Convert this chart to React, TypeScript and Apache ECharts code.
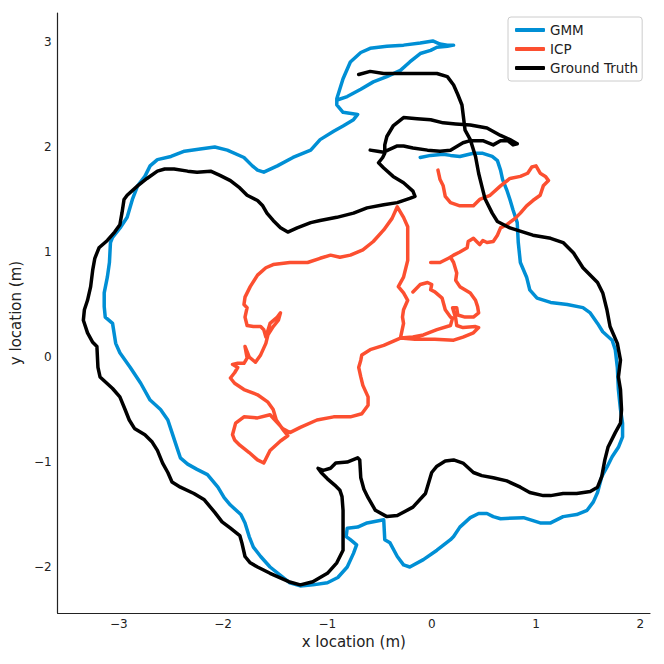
import React, { useEffect, useRef } from "react";
import * as echarts from "echarts";

const seriesNames = ["GMM", "ICP", "Ground Truth"];

const gmmPath = [[-0.11,1.90],[-0.01,1.92],[0.11,1.93],[0.18,1.92],[0.27,1.91],[0.40,1.94],[0.49,1.94],[0.58,1.91],[0.63,1.87],[0.66,1.78],[0.68,1.69],[0.72,1.59],[0.75,1.50],[0.78,1.40],[0.82,1.28],[0.83,1.09],[0.85,0.90],[0.91,0.76],[0.94,0.64],[1.01,0.56],[1.14,0.52],[1.30,0.50],[1.45,0.47],[1.52,0.42],[1.59,0.32],[1.64,0.24],[1.73,0.16],[1.76,0.07],[1.78,-0.10],[1.79,-0.31],[1.81,-0.50],[1.83,-0.63],[1.83,-0.76],[1.79,-0.86],[1.73,-0.95],[1.68,-1.05],[1.63,-1.14],[1.59,-1.29],[1.55,-1.38],[1.49,-1.46],[1.39,-1.50],[1.26,-1.52],[1.14,-1.58],[1.04,-1.58],[0.88,-1.53],[0.66,-1.54],[0.59,-1.52],[0.53,-1.49],[0.45,-1.49],[0.37,-1.53],[0.27,-1.62],[0.21,-1.71],[0.18,-1.74],[0.05,-1.84],[-0.08,-1.93],[-0.21,-2.00],[-0.27,-1.98],[-0.33,-1.90],[-0.40,-1.77],[-0.45,-1.74],[-0.46,-1.55],[-0.62,-1.58],[-0.71,-1.62],[-0.81,-1.63],[-0.82,-1.71],[-0.78,-1.74],[-0.72,-1.79],[-0.75,-1.87],[-0.81,-2.00],[-0.90,-2.10],[-1.00,-2.15],[-1.14,-2.17],[-1.26,-2.18],[-1.36,-2.15],[-1.45,-2.08],[-1.55,-2.00],[-1.64,-1.90],[-1.71,-1.81],[-1.75,-1.71],[-1.79,-1.58],[-1.83,-1.50],[-1.93,-1.41],[-1.99,-1.34],[-2.05,-1.24],[-2.15,-1.12],[-2.25,-1.07],[-2.34,-1.02],[-2.41,-0.96],[-2.44,-0.87],[-2.49,-0.72],[-2.53,-0.60],[-2.60,-0.50],[-2.70,-0.41],[-2.79,-0.25],[-2.89,-0.10],[-2.99,0.04],[-3.03,0.13],[-3.06,0.32],[-3.13,0.38],[-3.14,0.48],[-3.14,0.61],[-3.11,0.76],[-3.09,0.90],[-3.08,1.09],[-3.06,1.14],[-2.98,1.24],[-2.92,1.33],[-2.87,1.50],[-2.82,1.63],[-2.75,1.72],[-2.70,1.82],[-2.63,1.88],[-2.50,1.91],[-2.37,1.96],[-2.22,1.98],[-2.08,2.00],[-1.96,1.97],[-1.80,1.90],[-1.72,1.82],[-1.67,1.78],[-1.61,1.76],[-1.48,1.82],[-1.33,1.90],[-1.16,1.97],[-1.07,2.07],[-0.94,2.15],[-0.85,2.20],[-0.75,2.26],[-0.71,2.31],[-0.85,2.33],[-0.91,2.40],[-0.91,2.46],[-0.85,2.65],[-0.78,2.81],[-0.68,2.90],[-0.59,2.94],[-0.43,2.96],[-0.27,2.97],[-0.11,2.99],[0.01,3.01],[0.08,2.98],[0.15,2.97],[0.21,2.97],[0.15,2.96],[0.05,2.95],[-0.01,2.92],[-0.11,2.89],[-0.21,2.81],[-0.30,2.73],[-0.43,2.67],[-0.56,2.62],[-0.68,2.55],[-0.81,2.48],[-0.90,2.45]];

const icpPathA = [[0.06,1.78],[0.08,1.69],[0.11,1.63],[0.13,1.53],[0.18,1.47],[0.27,1.44],[0.40,1.44],[0.46,1.50],[0.56,1.54],[0.66,1.63],[0.75,1.70],[0.85,1.72],[0.92,1.75],[0.96,1.81],[1.00,1.82],[1.04,1.75],[1.09,1.72],[1.12,1.68],[1.07,1.63],[1.04,1.54],[0.97,1.49],[0.91,1.44],[0.85,1.37],[0.80,1.32],[0.72,1.26],[0.66,1.23],[0.63,1.16],[0.59,1.10],[0.53,1.09],[0.49,1.11],[0.46,1.07],[0.44,1.09],[0.40,1.13],[0.35,1.10],[0.34,1.04],[0.27,1.00],[0.21,0.97],[0.18,0.95],[0.08,0.90],[-0.01,0.90]];

const icpPathB = [[0.18,0.95],[0.21,0.90],[0.24,0.80],[0.23,0.73],[0.27,0.67],[0.37,0.61],[0.42,0.54],[0.44,0.48],[0.45,0.42],[0.40,0.38],[0.32,0.38],[0.25,0.40],[0.24,0.47],[0.20,0.47],[0.23,0.37],[0.24,0.30],[0.30,0.28],[0.42,0.29],[0.45,0.28],[0.40,0.23],[0.30,0.19],[0.21,0.16],[0.03,0.17],[-0.16,0.17],[-0.30,0.18],[-0.27,0.32],[-0.28,0.38],[-0.27,0.45],[-0.23,0.54],[-0.27,0.61],[-0.32,0.67],[-0.27,0.76],[-0.23,0.92],[-0.23,1.09],[-0.23,1.24],[-0.27,1.33],[-0.33,1.43],[-0.38,1.32],[-0.46,1.21],[-0.56,1.10],[-0.66,1.02],[-0.78,0.97],[-0.88,0.95],[-0.97,0.97],[-1.07,0.94],[-1.19,0.90],[-1.36,0.90],[-1.52,0.88],[-1.59,0.85],[-1.67,0.78],[-1.74,0.67],[-1.79,0.57],[-1.80,0.50],[-1.77,0.47],[-1.79,0.38],[-1.77,0.30],[-1.71,0.29],[-1.64,0.29],[-1.61,0.26],[-1.59,0.19],[-1.55,0.32],[-1.48,0.38],[-1.45,0.42],[-1.47,0.35],[-1.52,0.29],[-1.57,0.21],[-1.59,0.13],[-1.64,0.02],[-1.69,-0.05],[-1.75,0.00],[-1.79,0.10],[-1.77,-0.01],[-1.80,-0.06],[-1.86,-0.06],[-1.91,-0.07],[-1.86,-0.10],[-1.89,-0.15],[-1.93,-0.20],[-1.89,-0.25],[-1.80,-0.31],[-1.67,-0.36],[-1.57,-0.43],[-1.52,-0.50],[-1.49,-0.60],[-1.42,-0.70],[-1.38,-0.75],[-1.45,-0.80],[-1.55,-0.89],[-1.61,-1.01],[-1.67,-0.98],[-1.75,-0.91],[-1.84,-0.84],[-1.89,-0.79],[-1.91,-0.74],[-1.88,-0.63],[-1.80,-0.57],[-1.67,-0.58],[-1.55,-0.55],[-1.43,-0.68],[-1.36,-0.72],[-1.26,-0.67],[-1.10,-0.60],[-0.94,-0.57],[-0.78,-0.57],[-0.67,-0.54],[-0.61,-0.46],[-0.61,-0.38],[-0.66,-0.27],[-0.68,-0.19],[-0.70,-0.10],[-0.68,-0.03],[-0.67,0.02],[-0.59,0.07],[-0.46,0.11],[-0.30,0.18],[-0.18,0.19],[-0.08,0.21],[0.05,0.26],[0.18,0.30],[0.20,0.37],[0.18,0.38],[0.13,0.45],[0.10,0.56],[0.03,0.62],[-0.01,0.64],[0.00,0.69],[-0.04,0.71],[-0.11,0.69],[-0.18,0.62]];

const truthPath = [[-0.70,2.69],[-0.59,2.72],[-0.46,2.70],[-0.33,2.70],[-0.21,2.70],[-0.08,2.70],[0.05,2.70],[0.15,2.67],[0.21,2.59],[0.25,2.50],[0.29,2.40],[0.32,2.16],[0.37,2.07],[0.42,1.91],[0.45,1.75],[0.48,1.63],[0.51,1.51],[0.58,1.37],[0.63,1.29],[0.75,1.23],[0.97,1.16],[1.14,1.13],[1.26,1.09],[1.36,0.99],[1.45,0.85],[1.59,0.71],[1.64,0.61],[1.68,0.45],[1.71,0.29],[1.78,0.13],[1.81,-0.03],[1.79,-0.19],[1.81,-0.31],[1.82,-0.50],[1.81,-0.63],[1.76,-0.72],[1.69,-0.86],[1.66,-0.98],[1.63,-1.14],[1.59,-1.24],[1.52,-1.28],[1.39,-1.30],[1.26,-1.30],[1.14,-1.32],[1.07,-1.32],[0.94,-1.29],[0.85,-1.24],[0.72,-1.18],[0.59,-1.15],[0.48,-1.13],[0.40,-1.10],[0.30,-1.01],[0.21,-0.98],[0.13,-0.99],[0.05,-1.04],[0.00,-1.10],[-0.06,-1.30],[-0.18,-1.43],[-0.33,-1.51],[-0.43,-1.52],[-0.54,-1.46],[-0.61,-1.34],[-0.65,-1.26],[-0.68,-1.15],[-0.69,-0.98],[-0.71,-0.96],[-0.81,-1.00],[-0.92,-1.01],[-0.97,-1.06],[-1.04,-1.08],[-1.09,-1.06],[-1.06,-1.10],[-1.00,-1.16],[-0.93,-1.22],[-0.88,-1.27],[-0.86,-1.33],[-0.85,-1.46],[-0.85,-1.68],[-0.85,-1.84],[-0.91,-1.96],[-1.00,-2.06],[-1.14,-2.14],[-1.26,-2.17],[-1.37,-2.14],[-1.55,-2.06],[-1.67,-2.00],[-1.74,-1.96],[-1.79,-1.90],[-1.82,-1.77],[-1.84,-1.70],[-1.93,-1.63],[-2.01,-1.57],[-2.08,-1.48],[-2.18,-1.36],[-2.28,-1.30],[-2.41,-1.24],[-2.49,-1.19],[-2.53,-1.10],[-2.58,-1.01],[-2.63,-0.89],[-2.68,-0.81],[-2.75,-0.74],[-2.85,-0.68],[-2.90,-0.60],[-2.94,-0.50],[-2.99,-0.38],[-3.06,-0.30],[-3.18,-0.19],[-3.20,-0.10],[-3.21,0.10],[-3.25,0.14],[-3.30,0.23],[-3.34,0.35],[-3.33,0.45],[-3.30,0.54],[-3.27,0.67],[-3.25,0.83],[-3.23,0.94],[-3.19,1.04],[-3.11,1.11],[-3.04,1.19],[-2.99,1.26],[-2.97,1.37],[-2.95,1.50],[-2.92,1.54],[-2.82,1.63],[-2.73,1.70],[-2.63,1.77],[-2.56,1.79],[-2.47,1.79],[-2.34,1.77],[-2.25,1.76],[-2.12,1.77],[-2.03,1.73],[-1.93,1.68],[-1.84,1.61],[-1.77,1.54],[-1.67,1.49],[-1.62,1.44],[-1.58,1.37],[-1.52,1.30],[-1.45,1.23],[-1.38,1.19],[-1.29,1.23],[-1.16,1.28],[-1.07,1.30],[-0.91,1.33],[-0.75,1.37],[-0.62,1.42],[-0.46,1.45],[-0.33,1.47],[-0.21,1.51],[-0.16,1.53],[-0.18,1.58],[-0.27,1.66],[-0.37,1.72],[-0.46,1.80],[-0.51,1.85],[-0.47,1.90],[-0.45,1.94],[-0.45,2.02],[-0.43,2.10],[-0.37,2.20],[-0.27,2.28],[-0.14,2.27],[-0.01,2.26],[0.11,2.23],[0.23,2.22],[0.37,2.21],[0.53,2.18],[0.66,2.11],[0.75,2.07],[0.82,2.03],[0.78,2.02],[0.73,2.06],[0.66,2.06],[0.59,2.02],[0.49,2.06],[0.37,2.06],[0.30,2.04],[0.18,1.97],[0.08,1.96],[-0.04,1.97],[-0.18,1.99],[-0.27,2.01],[-0.33,2.01],[-0.42,1.97],[-0.46,1.95],[-0.52,1.96],[-0.59,1.97]];

const colors = { gmm: "#008fd5", icp: "#fc4f30", truth: "#000000" };
const FONT = "DejaVu Sans";

function tickFmt(v: number) {
  if (Math.abs(v - Math.round(v)) > 1e-6) return "";
  const r = Math.round(v);
  return r < 0 ? "\u2212" + Math.abs(r) : String(r);
}

export default function App() {
  const ref = useRef<HTMLDivElement>(null);
  useEffect(() => {
    if (!ref.current) return;
    const chart = echarts.init(ref.current, null, { renderer: "svg" });
    const lineSeries = (name: string, data: number[][], color: string, z: number) => ({
      name,
      type: "line",
      data,
      showSymbol: false,
      symbol: "none",
      smooth: false,
      z,
      lineStyle: { color, width: 3.5, cap: "round", join: "round" },
      itemStyle: { color },
    });
    chart.setOption({
      animation: false,
      backgroundColor: "#ffffff",
      textStyle: { fontFamily: FONT },
      grid: { left: 57, top: 13, width: 593, height: 600, containLabel: false },
      xAxis: {
        type: "value",
        min: -3.587,
        max: 2.093,
        minInterval: 1,
        maxInterval: 1,
        name: "x location (m)",
        nameLocation: "middle",
        nameGap: 16,
        nameTextStyle: { fontSize: 15, color: "#222", fontFamily: FONT },
        axisLine: { show: true, onZero: false, lineStyle: { color: "#222", width: 1.2 } },
        axisTick: { show: false },
        splitLine: { show: false },
        axisLabel: { formatter: tickFmt, fontSize: 12, color: "#222", margin: 5, fontFamily: FONT },
      },
      yAxis: {
        type: "value",
        min: -2.438,
        max: 3.276,
        minInterval: 1,
        maxInterval: 1,
        name: "y location (m)",
        nameLocation: "middle",
        nameGap: 20,
        nameTextStyle: { fontSize: 15, color: "#222", fontFamily: FONT },
        axisLine: { show: true, onZero: false, lineStyle: { color: "#222", width: 1.2 } },
        axisTick: { show: false },
        splitLine: { show: false },
        axisLabel: { formatter: tickFmt, fontSize: 12, color: "#222", margin: 6, fontFamily: FONT },
      },
      legend: {
        data: seriesNames,
        orient: "vertical",
        left: 508,
        top: 17,
        padding: [6, 4, 6, 7],
        itemGap: 5,
        itemWidth: 30,
        itemHeight: 4,
        icon: "roundRect",
        backgroundColor: "#ffffff",
        borderColor: "#cccccc",
        borderWidth: 1,
        borderRadius: 3,
        textStyle: { fontSize: 13.5, color: "#222", fontFamily: FONT, lineHeight: 14 },
      },
      series: [
        lineSeries("GMM", gmmPath, colors.gmm, 2),
        lineSeries("ICP", icpPathA, colors.icp, 3),
        lineSeries("ICP", icpPathB, colors.icp, 3),
        lineSeries("Ground Truth", truthPath, colors.truth, 4),
      ],
    });
    return () => chart.dispose();
  }, []);
  return (
    <div
      ref={ref}
      style={{ position: "absolute", left: 0, top: 0, width: 664, height: 664, background: "#fff" }}
    />
  );
}
